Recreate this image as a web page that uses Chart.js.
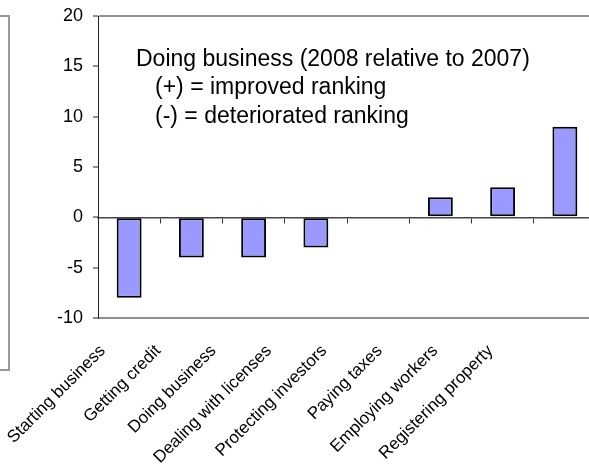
<!DOCTYPE html>
<html>
<head>
<meta charset="utf-8">
<script src="https://cdn.jsdelivr.net/npm/chart.js@4.4.1/dist/chart.umd.min.js"></script>
<style>
  html, body { margin: 0; padding: 0; background: #fff; overflow: hidden; }
  #wrap { position: relative; width: 596px; height: 474px; }
</style>
</head>
<body>
<div id="wrap"><canvas id="chart"></canvas></div>
<script>
// Change in ranking per indicator, 2008 vs 2007
const categories = [
  'Starting business', 'Getting credit', 'Doing business', 'Dealing with licenses',
  'Protecting investors', 'Paying taxes', 'Employing workers', 'Registering property'
];
const rankChange = [-8, -4, -4, -3, 0, 2, 3, 9];
const yTicks = [-10, -5, 0, 5, 10, 15, 20];
const noteLines = [
  'Doing business (2008 relative to 2007)',
  '(+) = improved ranking',
  '(-) = deteriorated ranking'
];

const FONT = '"Liberation Sans", Arial, Helvetica, sans-serif';

// Edge of the neighbouring panel and the text note inside the plot
const decorations = {
  id: 'decorations',
  afterDraw(chart) {
    const { ctx, chartArea } = chart;
    ctx.save();
    ctx.strokeStyle = '#999';
    ctx.lineWidth = 2;
    ctx.beginPath();
    ctx.moveTo(0, chartArea.top);
    ctx.lineTo(9, chartArea.top);
    ctx.lineTo(9, chartArea.bottom + 52);
    ctx.lineTo(0, chartArea.bottom + 52);
    ctx.stroke();

    ctx.fillStyle = '#000';
    ctx.font = '23px ' + FONT;
    ctx.textBaseline = 'alphabetic';
    ctx.textAlign = 'left';
    ctx.fillText(noteLines[0], chartArea.left + 38, chartArea.top + 49.5);
    ctx.fillText(noteLines[1], chartArea.left + 57, chartArea.top + 78);
    ctx.fillText(noteLines[2], chartArea.left + 57, chartArea.top + 106.5);
    ctx.restore();
  }
};

new Chart(document.getElementById('chart'), {
  type: 'bar',
  data: {
    labels: categories,
    datasets: [{
      data: rankChange,
      backgroundColor: '#9999FF',
      borderColor: '#000',
      borderWidth: 2,
      borderSkipped: false,
      barPercentage: 0.4,
      categoryPercentage: 1.0
    }]
  },
  options: {
    responsive: true,
    maintainAspectRatio: false,
    animation: false,
    layout: { padding: { top: 16, left: 0, right: 0, bottom: 0 } },
    plugins: { legend: { display: false }, tooltip: { enabled: false } },
    scales: {
      // category axis crossing at zero: line plus small boundary ticks
      x: {
        type: 'category',
        position: { y: 0 },
        ticks: { display: false },
        grid: { offset: true, drawOnChartArea: false, tickLength: 5, tickColor: '#333', color: '#333' },
        border: { display: true, color: '#444', width: 1.5 }
      },
      // slanted category names along the bottom
      xl: {
        type: 'linear',
        position: 'bottom',
        offset: false,
        min: -0.085,
        max: 8.905,
        afterBuildTicks(scale) {
          scale.ticks = categories.map((_, i) => ({ value: i }));
        },
        afterFit(scale) {
          scale.height = 156;
          scale.paddingLeft = 0;
          scale.paddingRight = 0;
        },
        ticks: {
          autoSkip: false, maxRotation: 45, minRotation: 45, padding: 23, color: '#000',
          font: { family: FONT, size: 17 },
          callback: (v) => categories[v] ?? ''
        },
        grid: { display: false, drawTicks: false },
        border: { display: false }
      },
      y: {
        min: -10, max: 20,
        afterBuildTicks(scale) { scale.ticks = yTicks.map(v => ({ value: v })); },
        afterFit(scale) {
          scale.width = 98;
          scale.paddingTop = 0;
          scale.paddingBottom = 0;
        },
        ticks: { padding: 10, color: '#000', font: { family: FONT, size: 18 } },
        grid: {
          drawOnChartArea: true, tickLength: 5, tickColor: '#222', tickWidth: 1,
          color: (c) => (c.tick && (c.tick.value === 20 || c.tick.value === -10)) ? '#909090' : 'rgba(0,0,0,0)',
          lineWidth: 2
        },
        border: { display: true, color: '#222', width: 1 }
      }
    }
  },
  plugins: [decorations]
});
</script>
</body>
</html>
